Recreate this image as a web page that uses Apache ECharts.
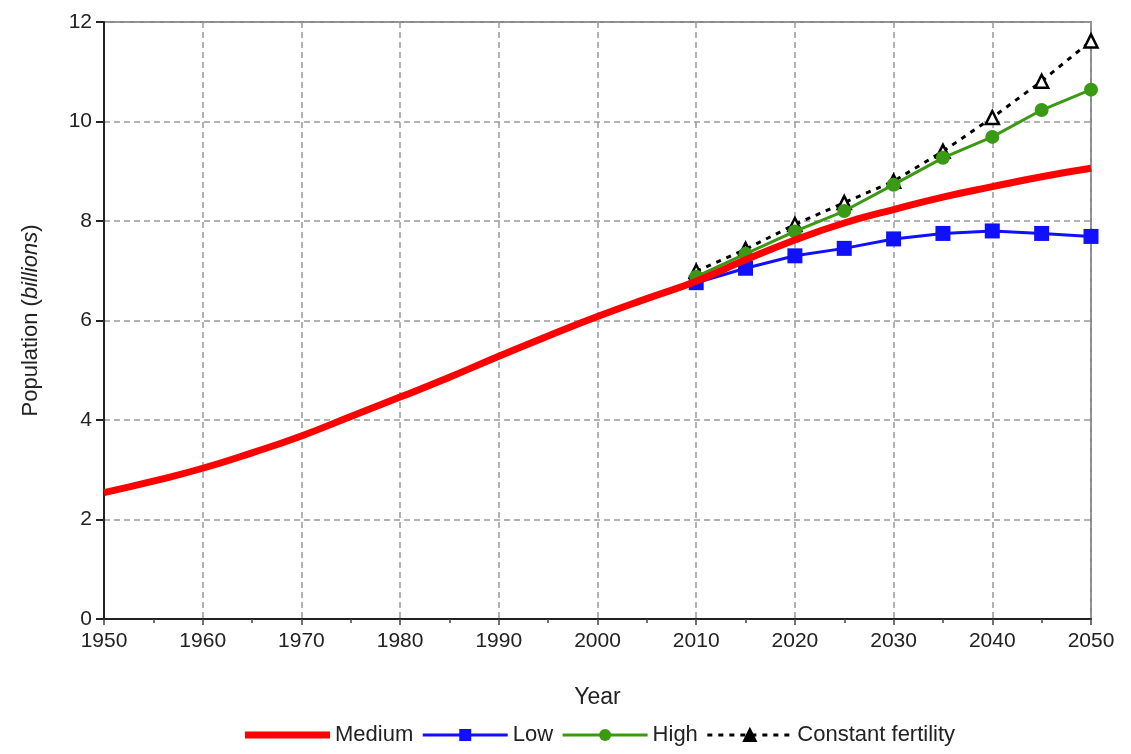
<!DOCTYPE html>
<html>
<head>
<meta charset="utf-8">
<script src="https://cdn.jsdelivr.net/npm/echarts@6/dist/echarts.min.js"></script>
<style>html,body{margin:0;padding:0;background:#fff}#c{width:1131px;height:754px}</style>
</head>
<body>
<div id="c"></div>
<script>
const mediumYears = [1950,1955,1960,1965,1970,1975,1980,1985,1990,1995,2000,2005,2010,2015,2020,2025,2030,2035,2040,2045,2050];
const mediumValues = [2.54,2.77,3.03,3.34,3.68,4.07,4.46,4.86,5.28,5.69,6.08,6.44,6.79,7.22,7.62,7.96,8.23,8.48,8.69,8.89,9.06];
const projYears = [2010,2015,2020,2025,2030,2035,2040,2045,2050];
const lowValues = [6.76,7.05,7.30,7.45,7.64,7.75,7.80,7.75,7.69];
const highValues = [6.88,7.34,7.79,8.20,8.73,9.27,9.69,10.23,10.64];
const constantValues = [6.99,7.43,7.93,8.37,8.80,9.40,10.08,10.81,11.62];
const yTicks = [0,2,4,6,8,10,12];
const seriesNames = ['Medium', 'Low', 'High', 'Constant fertility'];

const pair = (xs, ys) => xs.map((x, i) => [x, ys[i]]);
const font = 'Liberation Sans, Arial, sans-serif';

const chart = echarts.init(document.getElementById('c'));
chart.setOption({
  animation: false,
  backgroundColor: '#fff',
  grid: { left: 104, right: 40, top: 22, bottom: 135, show: true, borderColor: '#888', borderWidth: 2 },
  legend: {
    bottom: 3, left: 240, itemWidth: 85, itemHeight: 15, itemGap: 8,
    textStyle: { fontFamily: font, fontSize: 22, color: '#222' },
    data: [
      { name: seriesNames[0], icon: 'path://M0,0H85V7H0Z', itemStyle: { color: '#ff0000' } },
      { name: seriesNames[1], lineStyle: { width: 3 } },
      { name: seriesNames[2], lineStyle: { width: 3 } },
      { name: seriesNames[3], lineStyle: { width: 3 }, itemStyle: { color: '#000', borderColor: '#000' } }
    ]
  },
  xAxis: {
    type: 'value', min: 1950, max: 2050, interval: 10,
    name: 'Year', nameLocation: 'middle', nameGap: 67,
    nameTextStyle: { fontFamily: font, fontSize: 23, color: '#222' },
    axisLine: { show: true, onZero: false, lineStyle: { color: '#222', width: 2 } },
    axisTick: { show: true, inside: false, length: 6, lineStyle: { color: '#444', width: 1.5 } },
    minorTick: { show: true, splitNumber: 2, length: 4, lineStyle: { color: '#444', width: 1.5 } },
    axisLabel: { fontFamily: font, fontSize: 21, color: '#222', margin: 12, formatter: v => String(v) },
    splitLine: { show: true, lineStyle: { color: '#999', width: 1.5, type: [6, 4] } }
  },
  yAxis: {
    type: 'value', min: 0, max: 12, interval: 2,
    name: '{a|Population (}{b|billions}{a|)}', nameLocation: 'middle', nameGap: 62,
    nameTextStyle: {
      rich: {
        a: { fontFamily: font, fontSize: 22, color: '#222' },
        b: { fontFamily: font, fontSize: 22, color: '#222', fontStyle: 'italic' }
      }
    },
    axisLine: { show: true, lineStyle: { color: '#222', width: 2 } },
    axisTick: { show: true, inside: false, length: 8, lineStyle: { color: '#222', width: 2 } },
    axisLabel: { fontFamily: font, fontSize: 21, color: '#222', margin: 12,
      formatter: v => yTicks.includes(v) ? String(v) : '' },
    splitLine: { show: true, lineStyle: { color: '#999', width: 1.5, type: [6, 4] } }
  },
  series: [
    {
      name: seriesNames[0], type: 'line', data: pair(mediumYears, mediumValues),
      smooth: true, symbol: 'none', z: 5,
      lineStyle: { color: '#ff0000', width: 7 }, itemStyle: { color: '#ff0000' }
    },
    {
      name: seriesNames[1], type: 'line', data: pair(projYears, lowValues),
      symbol: 'rect', symbolSize: 15, z: 3,
      lineStyle: { color: '#1010ff', width: 3 }, itemStyle: { color: '#1010ff' }
    },
    {
      name: seriesNames[2], type: 'line', data: pair(projYears, highValues),
      symbol: 'circle', symbolSize: 14, z: 4,
      lineStyle: { color: '#3a9a14', width: 3 }, itemStyle: { color: '#3a9a14' }
    },
    {
      name: seriesNames[3], type: 'line', data: pair(projYears, constantValues),
      symbol: 'triangle', symbolSize: 13, z: 3,
      lineStyle: { color: '#000', width: 3, type: [5, 6] },
      itemStyle: { color: '#fff', borderColor: '#000', borderWidth: 2.5 }
    }
  ]
});
</script>
</body>
</html>
